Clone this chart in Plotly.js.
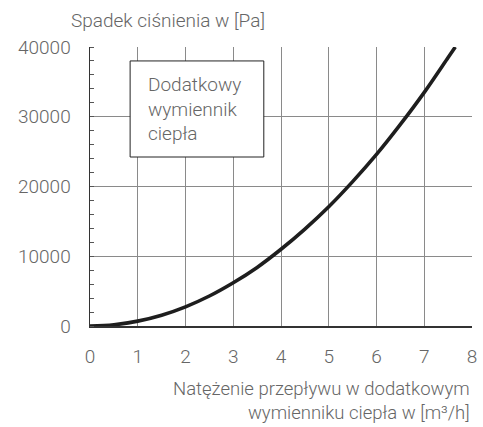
<!DOCTYPE html>
<html><head><meta charset="utf-8">
<script src="https://cdn.plot.ly/plotly-3.0.1.min.js"></script>
<style>body{margin:0;background:#fff}#c{width:483px;height:427px}</style>
</head><body><div id="c"></div>
<script>
const flowX = [0, 0.5, 1, 1.5, 2, 2.5, 3, 3.5, 4, 4.5, 5, 5.5, 6, 6.5, 7, 7.5, 7.65];
const dropY = [0, 170, 700, 1550, 2750, 4300, 6200, 8400, 11000, 13900, 17100, 20700, 24600, 28900, 33500, 38500, 40000];
const yTitle = "Spadek ciśnienia w [Pa]";
const xTitle = "Natężenie przepływu w dodatkowym<br>wymienniku ciepła w [m³/h]";
const boxText = "Dodatkowy<br>wymiennik<br>ciepła";

const fontFam = "Roboto, 'Liberation Sans', sans-serif";
const txtCol = "#666";
const f = (s) => ({family: fontFam, color: txtCol, size: s, weight: 300});
const data = [{
  x: flowX, y: dropY, type: 'scatter', mode: 'lines',
  line: {color: '#1e1e1e', width: 3.6, shape: 'spline'}, hoverinfo: 'skip'
}];
const layout = {
  width: 483, height: 427,
  margin: {l: 90, r: 11, t: 47, b: 101},
  paper_bgcolor: '#fff', plot_bgcolor: '#fff',
  showlegend: false,
  font: f(19),
  xaxis: {
    range: [0, 8], tickmode: 'linear', tick0: 0, dtick: 1,
    showgrid: true, gridcolor: '#8a8a8a', gridwidth: 1,
    zeroline: false, showline: true, linecolor: '#333', linewidth: 1.5,
    ticks: 'outside', ticklen: 13, tickcolor: 'rgba(0,0,0,0)',
    tickfont: f(19), fixedrange: true
  },
  yaxis: {
    range: [0, 40000], tickmode: 'linear', tick0: 0, dtick: 10000, tickformat: 'd',
    showgrid: true, gridcolor: '#8a8a8a', gridwidth: 1,
    zeroline: false, showline: true, linecolor: '#333', linewidth: 1.5,
    ticks: 'outside', ticklen: 14, tickcolor: 'rgba(0,0,0,0)',
    tickfont: f(19),
    minor: {tickmode: 'linear', dtick: 2000, tick0: 0, ticks: 'inside', ticklen: 4, tickwidth: 1, tickcolor: '#555', showgrid: false},
    fixedrange: true
  },
  shapes: [{
    type: 'rect', xref: 'x', yref: 'y', x0: 0.84, x1: 3.64, y0: 24230, y1: 38000,
    line: {color: '#222', width: 1}, fillcolor: '#fff', layer: 'above'
  }],
  annotations: [
    {text: boxText, xref: 'x', yref: 'y', x: 1.17, y: 31100, xanchor: 'left', yanchor: 'middle',
     align: 'left', showarrow: false, font: f(19)},
    {text: yTitle, xref: 'paper', yref: 'paper', x: -0.055, y: 1.0, yshift: 27, xanchor: 'left', yanchor: 'middle',
     showarrow: false, font: f(19)},
    {text: xTitle, xref: 'paper', yref: 'paper', x: 1, y: 0, yshift: -75, xanchor: 'right', yanchor: 'middle',
     align: 'right', showarrow: false, font: f(18.5)}
  ]
};
Plotly.newPlot('c', data, layout, {displayModeBar: false, staticPlot: true});
</script></body></html>
